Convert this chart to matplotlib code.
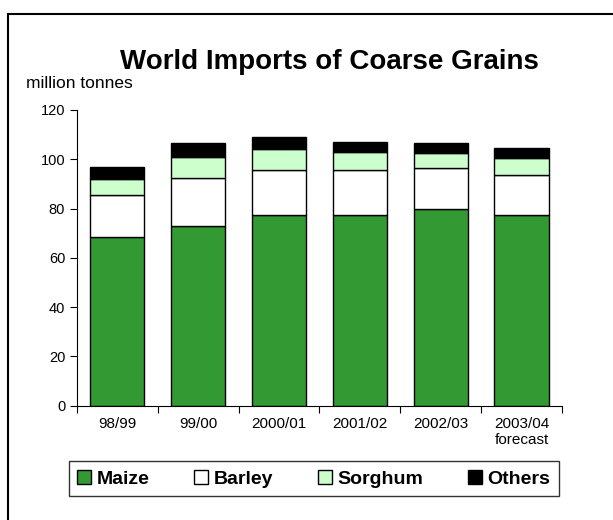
import matplotlib
matplotlib.use('Agg')
import numpy as np
import matplotlib.pyplot as plt
from matplotlib.patches import Rectangle, Patch

plt.rcParams['font.family'] = ['Liberation Sans', 'DejaVu Sans']

seasons = ['98/99', '99/00', '2000/01', '2001/02', '2002/03', '2003/04\nforecast']
maize = [68.5, 73, 77.5, 77.5, 80, 77.5]
barley = [17, 19.5, 18, 18, 16.5, 16]
sorghum = [6.5, 8.5, 8.5, 7.5, 6, 7]
others = [5, 5.5, 5, 4, 4, 4]

names = ['Maize', 'Barley', 'Sorghum', 'Others']
colors = ['#339933', '#ffffff', '#ccffcc', '#000000']

fig = plt.figure(figsize=(6.13, 5.2), dpi=100)
# outer frame
fig.patches.append(Rectangle((8/613, -0.1), 1.0, 1.1 - 14/520, transform=fig.transFigure,
                             fill=False, edgecolor='black', linewidth=1.5))

ax = fig.add_axes([0.1256, 0.2198, 0.791, 0.5687])
x = np.arange(len(seasons))
bottom = np.zeros(len(seasons))
for vals, c in zip([maize, barley, sorghum, others], colors):
    ax.bar(x, vals, 0.67, bottom=bottom, color=c, edgecolor='black', linewidth=1)
    bottom += np.array(vals)

ax.set_xlim(-0.5, len(seasons) - 0.5)
ax.set_ylim(0, 120)
ax.set_yticks(range(0, 121, 20))
ax.set_xticks(np.arange(-0.5, len(seasons)), minor=False)
ax.set_xticklabels([])
ax.set_xticks(x, minor=True)
ax.set_xticklabels(seasons, minor=True, fontsize=11, multialignment='right')
ax.tick_params(axis='x', which='minor', length=0, pad=8)
ax.tick_params(axis='x', which='major', length=5, direction='out')
ax.tick_params(axis='y', length=5, direction='out', labelsize=10.5)
ax.spines['top'].set_visible(False)
ax.spines['right'].set_visible(False)

fig.text(0.537, 0.88, 'World Imports of Coarse Grains', ha='center', va='center',
         fontsize=20, fontweight='bold')
fig.text(0.043, 0.84, 'million tonnes', ha='left', va='center', fontsize=12.5)

handles = [Patch(facecolor=c, edgecolor='black', linewidth=1) for c in colors]
fig.legend(handles, names, loc='center', bbox_to_anchor=(0.512, 0.079), ncol=4,
           frameon=True, fancybox=False, edgecolor='black',
           prop={'weight': 'bold', 'size': 14}, handlelength=0.7, handleheight=0.7,
           handletextpad=0.3, columnspacing=2.3, borderpad=0.45)

fig.savefig('out.png', dpi=100)
